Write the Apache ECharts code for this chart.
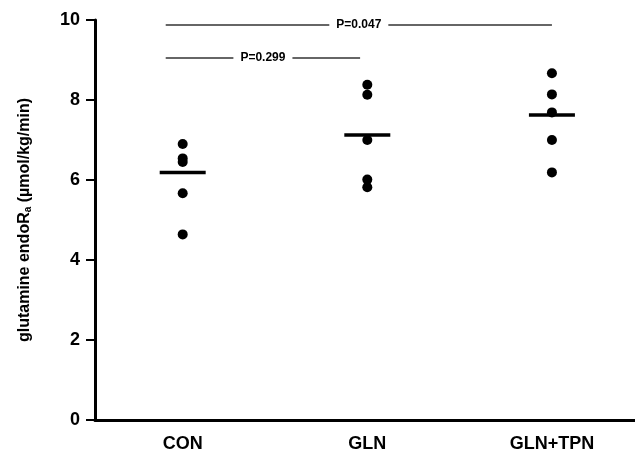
<!DOCTYPE html>
<html>
<head>
<meta charset="utf-8">
<script src="https://cdn.jsdelivr.net/npm/echarts@6/dist/echarts.min.js"></script>
<style>
  html, body { margin: 0; padding: 0; background: #fff; }
  #chart-container { width: 635px; height: 455px; }
</style>
</head>
<body>
<div id="chart-container"></div>
<script>
// groups on the x axis (positions 1, 2, 3)
var groups = ['CON', 'GLN', 'GLN+TPN'];
// individual values per group
var conValues = [6.9, 6.54, 6.45, 5.67, 4.64];
var glnValues = [8.38, 8.13, 7.0, 6.01, 5.82];
var gtpnValues = [8.67, 8.14, 7.69, 7.0, 6.19];
// horizontal bar per group
var groupMeans = [6.19, 7.125, 7.625];
var yTicks = [0, 2, 4, 6, 8, 10];
// comparison brackets: start x, end x, height, label
var comparisons = [
  { from: 0.908, to: 3.0, y: 9.875, label: 'P=0.047' },
  { from: 0.908, to: 1.961, y: 9.05, label: 'P=0.299' }
];

var myChart = echarts.init(document.getElementById('chart-container'));
var font = 'Liberation Sans, Arial, sans-serif';

function points(vals, pos) {
  return vals.map(function (v) { return [pos, v]; });
}

var option = {
  animation: false,
  backgroundColor: '#fff',
  grid: { left: 95, right: 0, top: 20, bottom: 35 },
  xAxis: {
    type: 'value',
    min: 0.525,
    max: 3.45,
    splitLine: { show: false },
    axisLine: { lineStyle: { color: '#000', width: 3 } },
    axisTick: { show: false },
    axisLabel: {
      customValues: [1, 2, 3],
      formatter: function (v) { return groups[Math.round(v) - 1]; },
      color: '#000',
      fontFamily: font,
      fontWeight: 'bold',
      fontSize: 18,
      margin: 15
    }
  },
  yAxis: {
    type: 'value',
    min: yTicks[0],
    max: yTicks[yTicks.length - 1],
    interval: 2,
    splitLine: { show: false },
    axisLine: { show: true, lineStyle: { color: '#000', width: 3 } },
    axisTick: { show: true, length: 9, lineStyle: { color: '#000', width: 2 } },
    axisLabel: {
      color: '#000',
      fontFamily: font,
      fontWeight: 'bold',
      fontSize: 18,
      margin: 15
    },
    name: 'glutamine endoR{sub|a} (µmol/kg/min)',
    nameLocation: 'middle',
    nameGap: 62,
    nameTextStyle: {
      color: '#000',
      fontFamily: font,
      fontWeight: 'bold',
      fontSize: 16,
      rich: {
        sub: { fontSize: 10, fontWeight: 'bold', fontFamily: font, color: '#000', verticalAlign: 'bottom', padding: [6, 0, 0, 0] }
      }
    }
  },
  series: [
    {
      name: 'CON', type: 'scatter', symbolSize: 10,
      itemStyle: { color: '#000', opacity: 1 },
      data: points(conValues, 1)
    },
    {
      name: 'GLN', type: 'scatter', symbolSize: 10,
      itemStyle: { color: '#000', opacity: 1 },
      data: points(glnValues, 2)
    },
    {
      name: 'GLN+TPN', type: 'scatter', symbolSize: 10,
      itemStyle: { color: '#000', opacity: 1 },
      data: points(gtpnValues, 3)
    },
    {
      name: 'mean', type: 'scatter', symbol: 'rect', symbolSize: [46, 3.5],
      itemStyle: { color: '#000', opacity: 1 },
      data: groupMeans.map(function (m, i) { return [i + 1, m]; }),
      markLine: {
        silent: true,
        symbol: ['none', 'none'],
        lineStyle: { color: '#333', width: 1.5, type: 'solid' },
        label: {
          show: true,
          position: 'insideMiddle',
          color: '#000',
          fontFamily: font,
          fontWeight: 'bold',
          fontSize: 12,
          backgroundColor: '#fff',
          padding: [1, 7]
        },
        data: comparisons.map(function (c) {
          return [
            { coord: [c.from, c.y], label: { formatter: c.label } },
            { coord: [c.to, c.y] }
          ];
        })
      }
    }
  ]
};

myChart.setOption(option);
</script>
</body>
</html>
